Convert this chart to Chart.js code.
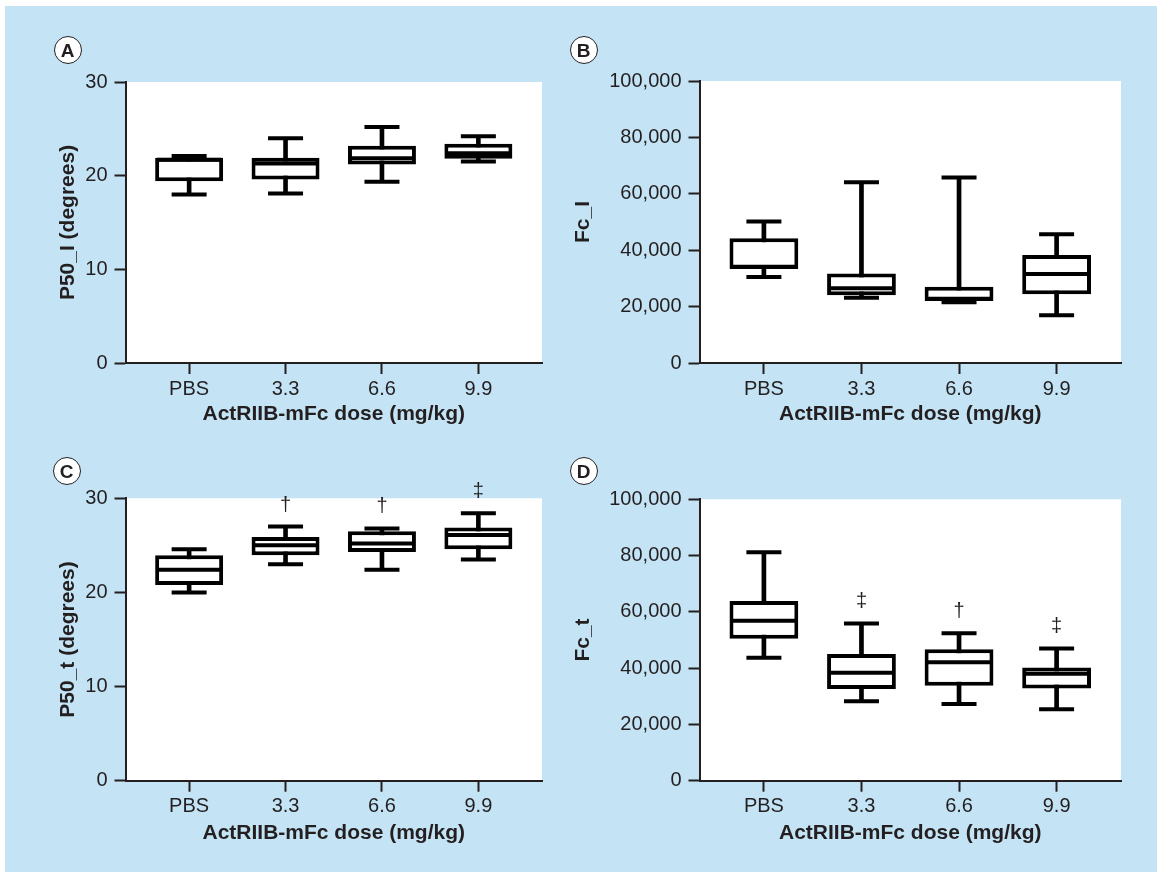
<!DOCTYPE html>
<html>
<head>
<meta charset="utf-8">
<title>ActRIIB-mFc dose</title>
<script src="https://cdn.jsdelivr.net/npm/chart.js@4.4.1/dist/chart.umd.min.js"></script>
<style>
  html, body { margin: 0; padding: 0; background: #fff; }
  #page { position: relative; width: 1157px; height: 872px; overflow: hidden; }
  #bg { position: absolute; left: 5px; top: 6px; right: 0; bottom: 0; background: #c4e4f5; }
  .panel { position: absolute; }
  .tag {
    position: absolute; width: 26px; height: 26px; margin: -14.5px 0 0 -14.5px;
    border: 1.5px solid #231f20; border-radius: 50%; background: #fff;
    font: bold 19px 'Liberation Sans', Arial, sans-serif; color: #231f20;
    text-align: center; line-height: 27px;
  }
</style>
</head>
<body>
<div id="page">
  <div id="bg"></div>
  <canvas id="chartA" class="panel" width="578" height="436" style="left:0;top:0"></canvas>
  <canvas id="chartB" class="panel" width="597" height="436" style="left:560px;top:0"></canvas>
  <canvas id="chartC" class="panel" width="578" height="436" style="left:0;top:436px"></canvas>
  <canvas id="chartD" class="panel" width="597" height="436" style="left:560px;top:436px"></canvas>
  <div class="tag" style="left:68px;top:50px">A</div>
  <div class="tag" style="left:584px;top:50px">B</div>
  <div class="tag" style="left:67px;top:471px">C</div>
  <div class="tag" style="left:584px;top:471px">D</div>
</div>
<script>
//========================================================//
// 데이터
//--------------------------------------------------------//
const categories = ['PBS', '3.3', '6.6', '9.9'];

// (A) P50_l
const p50lMin = [18.0, 18.1, 19.35, 21.5];
const p50lQ1  = [19.4, 19.6, 21.2, 21.8];
const p50lMed = [21.7, 21.3, 21.85, 22.4];
const p50lQ3  = [21.9, 21.9, 23.2, 23.4];
const p50lMax = [22.1, 24.0, 25.2, 24.2];

// (B) Fc_l
const fclMin = [30500, 23100, 21500, 16900];
const fclQ1  = [33300, 24000, 22000, 24400];
const fclMed = [34100, 26500, 22800, 31600];
const fclQ3  = [44200, 31700, 27000, 38300];
const fclMax = [50200, 64100, 65800, 45700];

// (C) P50_t
const p50tMin = [20.0, 23.0, 22.4, 23.5];
const p50tQ1  = [20.8, 23.95, 24.3, 24.6];
const p50tMed = [22.4, 25.0, 25.2, 26.1];
const p50tQ3  = [23.95, 25.9, 26.5, 26.9];
const p50tMax = [24.6, 27.0, 26.8, 28.4];
const p50tMarks = ['', '\u2020', '\u2020', '\u2021'];

// (D) Fc_t
const fctMin = [43700, 28200, 27300, 25400];
const fctQ1  = [50400, 32600, 33700, 32800];
const fctMed = [56800, 38400, 42100, 38000];
const fctQ3  = [63900, 45000, 46700, 40200];
const fctMax = [81200, 55900, 52400, 47000];
const fctMarks = ['', '\u2021', '\u2020', '\u2021'];

// 축 눈금
const degreeTicks = [0, 10, 20, 30];
const fcTicks = [0, 20000, 40000, 60000, 80000, 100000];

//========================================================//
// 스타일
//--------------------------------------------------------//
const INK = '#231f20';   // 축, 글자
const BOX = '#000';      // 상자그림
const FAMILY = "'Liberation Sans', Arial, Helvetica, sans-serif";
const TICK_FONT = {family: FAMILY, size: 20};
const TITLE_FONT = {family: FAMILY, size: 21, weight: 'bold'};

// 흰색 플롯 영역
const areaPlugin = {
  id: 'area',
  beforeDraw(chart) {
    const a = chart.chartArea;
    chart.ctx.save();
    chart.ctx.fillStyle = '#fff';
    chart.ctx.fillRect(a.left, a.top, a.right - a.left, a.bottom - a.top);
    chart.ctx.restore();
  }
};

// 유의성 표시 (†, ‡)
const markPlugin = {
  id: 'marks',
  afterDatasetsDraw(chart, args, opts) {
    if (!opts || !opts.text) return;
    const ctx = chart.ctx;
    const x = chart.scales.x, y = chart.scales.y;
    ctx.save();
    ctx.font = '20px ' + FAMILY;
    ctx.fillStyle = INK;
    ctx.textAlign = 'center';
    ctx.textBaseline = 'middle';
    opts.text.forEach(function(t, i) {
      if (t) ctx.fillText(t, x.getPixelForValue(i), y.getPixelForValue(opts.top[i]) - 21.5);
    });
    ctx.restore();
  }
};

//========================================================//
// 차트 생성
//--------------------------------------------------------//
let _drawChart = function(id, s, geo) {
  const pts = (arr) => arr.map((v, i) => ({x: i, y: v}));
  const rng = (lo, hi) => lo.map((v, i) => ({x: i, y: [v, hi[i]]}));

  return new Chart(document.getElementById(id), {
    type: 'bar',
    data: {
      datasets: [{
        // 수염
        type: 'bar', data: rng(s.min, s.max), backgroundColor: BOX,
        grouped: false, barPercentage: 1, categoryPercentage: 0.048, order: 3
      },{
        // 상자
        type: 'bar', data: rng(s.q1, s.q3), backgroundColor: '#fff',
        borderColor: BOX, borderWidth: 4, borderSkipped: false,
        grouped: false, barPercentage: 1, categoryPercentage: 0.705, order: 2
      },{
        // 수염 끝
        type: 'line', data: pts(s.max).concat(pts(s.min)), showLine: false,
        pointStyle: 'line', pointRadius: 17.5, pointBorderWidth: 4,
        pointBorderColor: BOX, pointHoverRadius: 17.5, order: 1
      },{
        // 중앙값
        type: 'line', data: pts(s.med), showLine: false,
        pointStyle: 'line', pointRadius: 32, pointBorderWidth: 4,
        pointBorderColor: BOX, pointHoverRadius: 32, order: 0
      }]
    },
    options: {
      responsive: false,
      animation: false,
      devicePixelRatio: 1,
      events: [],
      layout: {padding: {left: 0, top: geo.top, right: geo.right, bottom: 0}},
      plugins: {
        legend: {display: false},
        tooltip: {enabled: false},
        marks: {text: s.marks || null, top: s.max}
      },
      scales: {
        x: {
          type: 'linear', min: -0.66, max: 3.66, offset: false,
          afterBuildTicks: function(sc) { sc.ticks = categories.map((c, i) => ({value: i})); },
          afterFit: function(sc) { sc.height = geo.xh; },
          ticks: {callback: (v) => categories[v], font: TICK_FONT, color: INK,
                  padding: 3, autoSkip: false, maxRotation: 0},
          grid: {offset: false, drawOnChartArea: false, drawTicks: true, tickLength: 11, tickWidth: 2, tickColor: INK},
          border: {display: true, color: INK, width: 2},
          title: {display: true, text: 'ActRIIB-mFc dose (mg/kg)', font: TITLE_FONT,
                  color: INK, padding: {top: 0, bottom: geo.xt}}
        },
        y: {
          type: 'linear', min: 0, max: s.ticks[s.ticks.length - 1],
          afterBuildTicks: function(sc) { sc.ticks = s.ticks.map((v) => ({value: v})); },
          afterFit: function(sc) { sc.width = geo.yw; },
          ticks: {callback: (v) => v.toLocaleString('en-US'), font: TICK_FONT, color: INK, padding: 7},
          grid: {drawOnChartArea: false, drawTicks: true, tickLength: 11, tickWidth: 2, tickColor: INK},
          border: {display: true, color: INK, width: 2},
          title: {display: true, text: s.title, font: TITLE_FONT, color: INK,
                  padding: {top: geo.yt, bottom: 0}}
        }
      }
    },
    plugins: [areaPlugin, markPlugin]
  });
};

_drawChart('chartA',
  {min: p50lMin, q1: p50lQ1, med: p50lMed, q3: p50lQ3, max: p50lMax,
   ticks: degreeTicks, title: 'P50_I (degrees)'},
  {top: 82, right: 32, xh: 73, yw: 125.5, xt: 9.4, yt: 55.8});

_drawChart('chartB',
  {min: fclMin, q1: fclQ1, med: fclMed, q3: fclQ3, max: fclMax,
   ticks: fcTicks, title: 'Fc_I'},
  {top: 81, right: 36, xh: 73, yw: 139.5, xt: 9.4, yt: 10.7});

_drawChart('chartC',
  {min: p50tMin, q1: p50tQ1, med: p50tMed, q3: p50tQ3, max: p50tMax,
   ticks: degreeTicks, title: 'P50_t (degrees)', marks: p50tMarks},
  {top: 62.3, right: 32, xh: 91.3, yw: 125.5, xt: 26.1, yt: 55.8});

_drawChart('chartD',
  {min: fctMin, q1: fctQ1, med: fctMed, q3: fctQ3, max: fctMax,
   ticks: fcTicks, title: 'Fc_t', marks: fctMarks},
  {top: 63.3, right: 36, xh: 91.3, yw: 139.5, xt: 26.1, yt: 10.7});
</script>
</body>
</html>
